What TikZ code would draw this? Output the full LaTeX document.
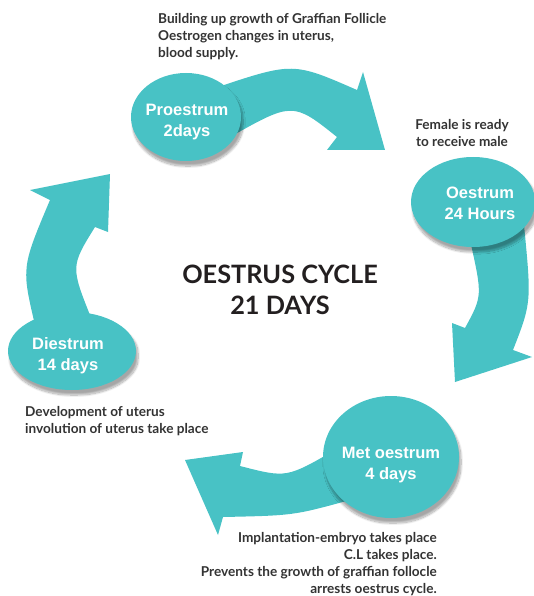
\documentclass[tikz,border=0pt]{standalone}
\usepackage{fontspec}
\setmainfont{Liberation Sans}
\newfontfamily\annfont{Lato}
\usetikzlibrary{shapes.geometric,shadows.blur}
\definecolor{tealc}{HTML}{48C2C5}
\definecolor{anntxt}{HTML}{333333}
\definecolor{titletxt}{HTML}{231F20}
\begin{document}
\begin{tikzpicture}[x=1pt,y=-1pt,
  arrowbody/.style={fill=tealc},
  phase/.style={ellipse, fill=tealc, inner sep=0pt,
    blur shadow={shadow xshift=2pt, shadow yshift=-5pt, shadow opacity=35, shadow blur steps=14, shadow blur extra rounding=3pt}},
  phasetext/.style={inner sep=0pt, text=white, align=center,
    font=\fontsize{16.5}{21}\selectfont\bfseries},
  ann/.style={inner sep=0pt, text=anntxt, font=\annfont\fontsize{13.6}{17}\selectfont\bfseries},
  titlestyle/.style={inner sep=0pt, text=titletxt, font=\annfont\fontsize{25.3}{31}\selectfont\bfseries, align=center}]
\useasboundingbox (0,0) rectangle (534,596);
% arrows
\fill[arrowbody] (215,88) .. controls (293,62) .. (357,90) -- (363,72) -- (385,150) -- (327,150) -- (337,137)
  .. controls (292.5,101.5) .. (225,140) -- cycle;
\fill[arrowbody] (470,240) .. controls (482.5,296) .. (465,328) -- (452,323) -- (455,382) -- (532,357) -- (513,350)
  .. controls (531.5,302.5) .. (524,225) -- cycle;
\fill[arrowbody] (335,450) .. controls (286.5,478) .. (240,466) -- (243,452) -- (185,460) -- (218,535) -- (223,517)
  .. controls (293.5,515.5) .. (350,500) -- cycle;
\fill[arrowbody] (35,325) .. controls (21.5,267.5) .. (50,200) -- (30,190) -- (110,174) -- (108,232) -- (95,227)
  .. controls (70.5,266.5) .. (92,320) -- cycle;
% phases
\node[phase, minimum width=110pt, minimum height=88pt] (pro) at (186,117) {};
\node[phase, minimum width=124pt, minimum height=90pt] (oes) at (473,202) {};
\node[phase, minimum width=136pt, minimum height=122pt] (met) at (391,457) {};
\node[phase, minimum width=128pt, minimum height=78pt] (die) at (72,351) {};
\node[phasetext] (protext) at (187,122) {Proestrum\\2days};
\node[phasetext] (oestext) at (480,203) {Oestrum\\24 Hours};
\node[phasetext] (mettext) at (391,465) {Met oestrum\\4 days};
\node[phasetext] (dietext) at (68,356) {Diestrum\\14 days};
% annotations
\node[ann, anchor=north west, align=left] (tpro) at (158,13) {Building up growth of Graffian Follicle\\Oestrogen changes in uterus,\\blood supply.};
\node[ann, anchor=north, align=center] (toes) at (462,119) {Female is ready\\to receive male};
\node[ann, anchor=north west, align=left] (tdie) at (25,406) {Development of uterus\\involution of uterus take place};
\node[ann, anchor=north east, align=right] (tmet) at (437,532) {Implantation-embryo takes place\\C.L takes place.\\Prevents the growth of graffian follocle\\arrests oestrus cycle.};
\node[titlestyle] (title) at (280,290) {OESTRUS CYCLE\\21 DAYS};
\end{tikzpicture}
\end{document}
